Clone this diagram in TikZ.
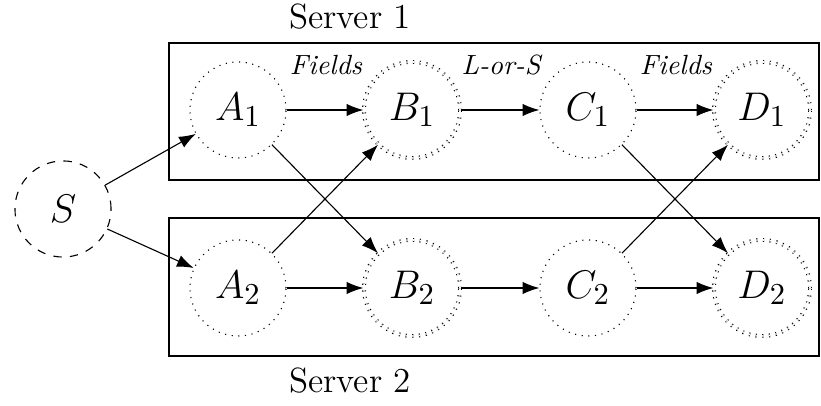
\documentclass[tikz,border=0pt]{standalone}
\usetikzlibrary{arrows.meta}
\begin{document}
\begin{tikzpicture}[x=0.36pt,y=-0.36pt,
  stage/.style={circle, draw, dotted, minimum size=34.6pt, inner sep=0pt,
    font=\fontsize{15.8}{18}\selectfont},
  dstage/.style={stage, double},
  source/.style={circle, draw, dashed, minimum size=34.6pt, inner sep=0pt,
    font=\fontsize{15.8}{18}\selectfont},
  arr/.style={-{Latex[length=6pt,width=4.4pt]}},
  box/.style={draw, line width=0.6pt},
  lbl/.style={font=\fontsize{10}{12}\selectfont\itshape},
  srv/.style={font=\fontsize{12.6}{15}\selectfont}]
\useasboundingbox (0,0) rectangle (821,406);
\draw[box] (169,43) rectangle (819,180);
\draw[box] (169,218) rectangle (819,356);
\node[srv] (s1) at (350,17) {Server 1};
\node[srv] (s2) at (350,381) {Server 2};
\node[source] (S) at (63,209) {$S$};
\node[stage] (A1) at (238,110) {$A_1$};
\node[dstage] (B1) at (412,110) {$B_1$};
\node[stage] (C1) at (588,110) {$C_1$};
\node[dstage] (D1) at (762,110) {$D_1$};
\node[stage] (A2) at (238,288) {$A_2$};
\node[dstage] (B2) at (412,288) {$B_2$};
\node[stage] (C2) at (588,288) {$C_2$};
\node[dstage] (D2) at (762,288) {$D_2$};
\node[lbl] (f1) at (326,65) {Fields};
\node[lbl] (los) at (501,65) {L-or-S};
\node[lbl] (f2) at (676,65) {Fields};
\draw[arr] (S) -- (A1);
\draw[arr] (S) -- (A2);
\draw[arr] (A1) -- (B1);
\draw[arr] (B1) -- (C1);
\draw[arr] (C1) -- (D1);
\draw[arr] (A2) -- (B2);
\draw[arr] (B2) -- (C2);
\draw[arr] (C2) -- (D2);
\draw[arr] (A1) -- (B2);
\draw[arr] (A2) -- (B1);
\draw[arr] (C1) -- (D2);
\draw[arr] (C2) -- (D1);
\end{tikzpicture}
\end{document}
